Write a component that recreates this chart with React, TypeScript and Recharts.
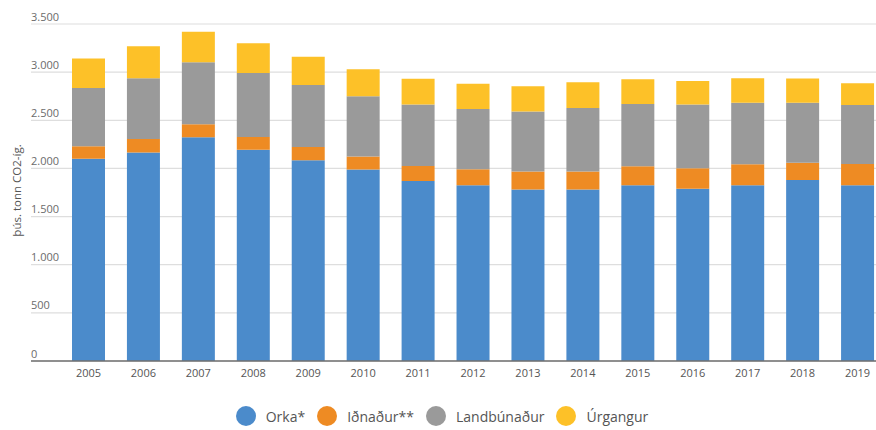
import React from 'react';
import { BarChart, Bar, XAxis, YAxis, CartesianGrid, Legend } from 'recharts';

const years = ['2005', '2006', '2007', '2008', '2009', '2010', '2011', '2012', '2013', '2014', '2015', '2016', '2017', '2018', '2019'];
const orka = [2100, 2165, 2325, 2195, 2085, 1990, 1870, 1825, 1780, 1780, 1825, 1790, 1825, 1880, 1825];
const idnadur = [130, 140, 135, 132, 138, 135, 156, 167, 187, 187, 198, 211, 219, 180, 222];
const landbunadur = [605, 632, 643, 664, 643, 625, 639, 625, 625, 660, 646, 664, 639, 622, 611];
const urgangur = [306, 333, 316, 309, 295, 281, 267, 263, 261, 267, 257, 243, 253, 253, 226];
const yTicks = [0, 500, 1000, 1500, 2000, 2500, 3000, 3500];

const SERIES = [
  { key: 'orka', name: 'Orka*', color: '#4B8BCB' },
  { key: 'idnadur', name: 'Iðnaður**', color: '#EE8B23' },
  { key: 'landbunadur', name: 'Landbúnaður', color: '#9A9A9A' },
  { key: 'urgangur', name: 'Úrgangur', color: '#FDC128' },
];

const data = years.map((year, i) => ({
  year,
  orka: orka[i],
  idnadur: idnadur[i],
  landbunadur: landbunadur[i],
  urgangur: urgangur[i],
}));

const FONT = '"Open Sans", sans-serif';
const LEFT = 31;

const formatThousands = (v: number) => v.toString().replace(/\B(?=(\d{3})+(?!\d))/g, '.');

// y labels sit left-aligned just above each gridline
const YTick = ({ y, payload }: any) => (
  <text x={LEFT} y={y - 3.5} fill="#6b6b6b" fontSize={11} fontFamily={FONT} textAnchor="start">
    {formatThousands(payload.value)}
  </text>
);

const LegendContent = () => (
  <div
    style={{
      height: 28,
      display: 'flex',
      justifyContent: 'center',
      alignItems: 'center',
      gap: 12,
      fontFamily: FONT,
      fontSize: 14,
      color: '#555',
    }}
  >
    {SERIES.map((s) => (
      <div key={s.key} style={{ display: 'flex', alignItems: 'center' }}>
        <span
          style={{ width: 20, height: 20, borderRadius: '50%', background: s.color, marginRight: 10, display: 'inline-block' }}
        />
        <span>{s.name}</span>
      </div>
    ))}
  </div>
);

export default function App() {
  return (
    <div style={{ position: 'fixed', top: 0, left: 0, width: 876, height: 430, overflow: 'hidden', background: '#fff' }}>
      <BarChart width={885} height={430} data={data} margin={{ top: 24, right: 0, bottom: 0, left: 0 }}>
        <CartesianGrid vertical={false} stroke="#dedede" strokeWidth={1.2} />
        <XAxis
          dataKey="year"
          height={41}
          padding={{ left: 30, right: 0 }}
          tickLine={false}
          axisLine={{ stroke: '#6f6f6f', strokeWidth: 1.5 }}
          tick={{ fill: '#555', fontSize: 11, fontFamily: FONT }}
        />
        <YAxis
          width={LEFT}
          domain={[0, 3500]}
          ticks={yTicks}
          axisLine={false}
          tickLine={false}
          tick={<YTick />}
          label={{
            value: 'þús. tonn CO2-íg.',
            angle: -90,
            position: 'insideLeft',
            dx: 12,
            dy: -2,
            style: { fill: '#555', fontSize: 11.5, fontFamily: FONT, textAnchor: 'middle' },
          }}
        />
        <Legend
          verticalAlign="bottom"
          content={<LegendContent />}
          wrapperStyle={{ left: 4, width: 876, height: 28 }}
        />
        {SERIES.map((s) => (
          <Bar key={s.key} dataKey={s.key} name={s.name} stackId="a" fill={s.color} barSize={33} isAnimationActive={false} />
        ))}
      </BarChart>
    </div>
  );
}
